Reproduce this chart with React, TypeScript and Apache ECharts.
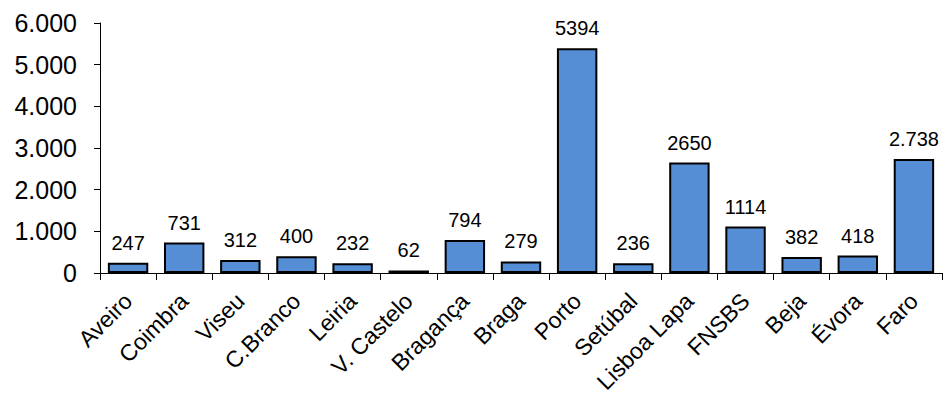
import React, { useEffect, useRef } from "react";
import * as echarts from "echarts";

const categories = ["Aveiro", "Coimbra", "Viseu", "C.Branco", "Leiria", "V. Castelo", "Bragança", "Braga", "Porto", "Setúbal", "Lisboa Lapa", "FNSBS", "Beja", "Évora", "Faro"];
const values = [247, 731, 312, 400, 232, 62, 794, 279, 5394, 236, 2650, 1114, 382, 418, 2738];
const valueLabels = ["247", "731", "312", "400", "232", "62", "794", "279", "5394", "236", "2650", "1114", "382", "418", "2.738"];
const yTickLabels: Record<number, string> = { 0: "0", 1000: "1.000", 2000: "2.000", 3000: "3.000", 4000: "4.000", 5000: "5.000", 6000: "6.000" };

export default function App() {
  const ref = useRef<HTMLDivElement>(null);
  useEffect(() => {
    const chart = echarts.init(ref.current!, undefined, { renderer: "svg" });
    const font = "'Liberation Sans', Arial, sans-serif";
    chart.setOption({
      animation: false,
      grid: { left: 100, right: 1, top: 23, bottom: 133, containLabel: false },
      xAxis: {
        type: "category",
        data: categories,
        axisLine: { lineStyle: { color: "#000", width: 1 } },
        axisTick: { show: true, alignWithLabel: false, length: 7, lineStyle: { color: "#000" } },
        axisLabel: { rotate: 45, interval: 0, color: "#000", fontSize: 23, fontFamily: font, margin: 24 },
      },
      yAxis: {
        type: "value",
        min: 0,
        max: 6000,
        interval: 1000,
        axisLine: { show: true, lineStyle: { color: "#000", width: 1 } },
        axisTick: { show: true, length: 6, lineStyle: { color: "#000" } },
        splitLine: { show: false },
        axisLabel: { color: "#000", fontSize: 25, fontFamily: font, margin: 23, formatter: (v: number) => yTickLabels[v] ?? String(v) },
      },
      series: [
        {
          type: "bar",
          data: values,
          barCategoryGap: "28%",
          itemStyle: { color: "#558ED5", borderColor: "#000", borderWidth: 2 },
          label: {
            show: true,
            position: "top",
            distance: 10,
            color: "#000",
            fontSize: 20,
            fontFamily: font,
            formatter: (p: any) => valueLabels[p.dataIndex],
          },
        },
      ],
    });
    return () => chart.dispose();
  }, []);
  return <div ref={ref} style={{ position: "absolute", left: 0, top: 0, width: 943, height: 406, overflow: "hidden" }} />;
}
